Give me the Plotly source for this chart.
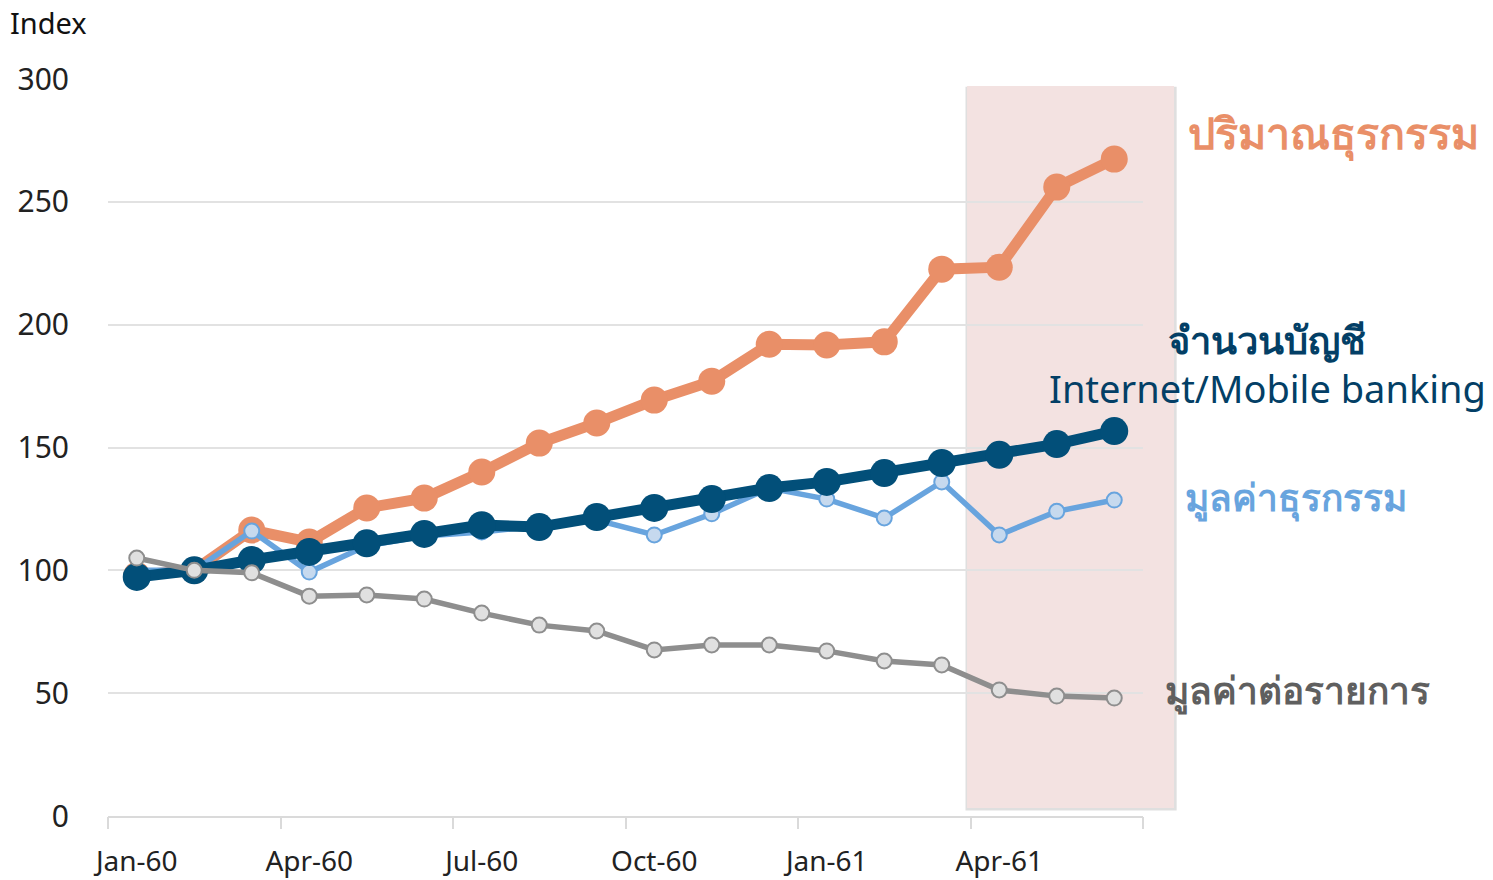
import plotly.graph_objects as go

months = ["Jan-60", "Feb-60", "Mar-60", "Apr-60", "May-60", "Jun-60",
          "Jul-60", "Aug-60", "Sep-60", "Oct-60", "Nov-60", "Dec-60",
          "Jan-61", "Feb-61", "Mar-61", "Apr-61", "May-61", "Jun-61"]

# Index values (base = 100)
txn_volume = [98, 100, 116.4, 111.5, 125.4, 129.4, 140, 151.8, 160, 169.3,
              177, 192, 191.7, 193, 222.6, 223.4, 256, 267.4]
accounts = [97.3, 100, 104.2, 107.5, 111, 114.8, 118.4, 117.6, 121.7, 125.4,
            129, 133.5, 136, 139.6, 143.7, 147, 151.4, 156.7]
txn_value = [100, 100, 116, 99.3, 110, 114, 115.6, 118, 120.5, 114.4,
             123, 133.5, 129, 121.3, 136, 114.4, 124, 128.6]
value_per_txn = [105, 100, 99, 89.5, 90, 88.3, 82.6, 77.7, 75.3, 67.6,
                 69.6, 69.6, 67.2, 63.1, 61.5, 51.3, 48.8, 48]

y_ticks = [0, 50, 100, 150, 200, 250, 300]
x_ticks = months[::3]
# tick marks sit on the boundaries between quarters
quarter_bounds = [-0.5, 2.5, 5.5, 8.5, 11.5, 14.5, 17.5]

ORANGE = "#E98F68"
NAVY = "#024F79"
LIGHT_BLUE = "#68A4DE"
GREY = "#8E8E8E"
FONT = "Noto Sans, Open Sans, sans-serif"

fig = go.Figure()

fig.add_trace(go.Scatter(
    x=months, y=txn_volume, mode="lines+markers",
    line=dict(color=ORANGE, width=11),
    marker=dict(size=27, color=ORANGE, line=dict(width=0)),
))
fig.add_trace(go.Scatter(
    x=months, y=txn_value, mode="lines+markers",
    line=dict(color=LIGHT_BLUE, width=5.5),
    marker=dict(size=15, color="#C6D9EE", line=dict(color=LIGHT_BLUE, width=2)),
))
fig.add_trace(go.Scatter(
    x=months, y=accounts, mode="lines+markers",
    line=dict(color=NAVY, width=11),
    marker=dict(size=28, color=NAVY, line=dict(width=0)),
))
fig.add_trace(go.Scatter(
    x=months, y=value_per_txn, mode="lines+markers",
    line=dict(color=GREY, width=5.5),
    marker=dict(size=15, color="#E0E0E0", line=dict(color=GREY, width=2)),
))

# highlighted recent period with a soft drop shadow
fig.add_shape(type="rect", xref="paper", yref="paper",
              x0=0.8285, x1=1.0325, y0=0.0075, y1=0.9895,
              fillcolor="rgba(150,150,150,0.30)", line=dict(width=0), layer="below")
fig.add_shape(type="rect", xref="paper", yref="paper",
              x0=0.830, x1=1.030, y0=0.011, y1=0.9905,
              fillcolor="#F3E2E1", line=dict(width=0), layer="below")

annotations = [
    dict(text="Index", x=-0.097, y=1.106, xanchor="left", yanchor="top",
         font=dict(size=29, color="#111111")),
    dict(text="ปริมาณธุรกรรม", x=1.0415, y=0.927, xanchor="left", yanchor="middle",
         font=dict(size=43, color=ORANGE, weight=600)),
    dict(text="<b>จำนวนบัญชี</b><br>Internet/Mobile banking", x=1.12, y=0.614,
         xanchor="center", yanchor="middle", align="center",
         font=dict(size=38, color="#033F66")),
    dict(text="มูลค่าธุรกรรม", x=1.039, y=0.433, xanchor="left", yanchor="middle",
         font=dict(size=37, color=LIGHT_BLUE, weight=600)),
    dict(text="มูลค่าต่อรายการ", x=1.019, y=0.171, xanchor="left", yanchor="middle",
         font=dict(size=37, color="#5F5F5F", weight=600)),
]
for a in annotations:
    a.update(xref="paper", yref="paper", showarrow=False)
    a["font"]["family"] = FONT

fig.update_layout(
    width=1493, height=880,
    margin=dict(l=108, r=350, t=79, b=64, autoexpand=False),
    paper_bgcolor="white", plot_bgcolor="white",
    showlegend=False,
    font=dict(family=FONT, size=29, color="#222222"),
    annotations=annotations,
    xaxis=dict(
        type="category", categoryorder="array", categoryarray=months,
        tickmode="array", tickvals=x_ticks, ticktext=x_ticks, tickangle=0,
        ticks="", showline=True, linecolor="#DADADA", linewidth=2,
        showgrid=False, range=[-0.5, 17.5], ticklabelstandoff=19,
        automargin=False, tickfont=dict(size=28, color="#222222"),
    ),
    xaxis2=dict(
        overlaying="x", side="bottom", range=[-0.5, 17.5],
        tickmode="array", tickvals=quarter_bounds, showticklabels=False,
        ticks="outside", ticklen=12, tickwidth=2, tickcolor="#DADADA",
        showgrid=False, zeroline=False, showline=False, automargin=False,
    ),
    yaxis=dict(
        range=[0, 300], tickvals=y_ticks, showgrid=True,
        gridcolor="#E2E2E2", gridwidth=2, zeroline=False, showline=False,
        ticks="", ticklabelstandoff=38, automargin=False,
        tickfont=dict(size=30, color="#222222"),
    ),
)

# invisible helper trace that activates the boundary tick axis
fig.add_trace(go.Scatter(x=[-0.5], y=[0], xaxis="x2", mode="markers",
                         marker=dict(opacity=0), hoverinfo="skip"))

fig.write_html("out.html")
